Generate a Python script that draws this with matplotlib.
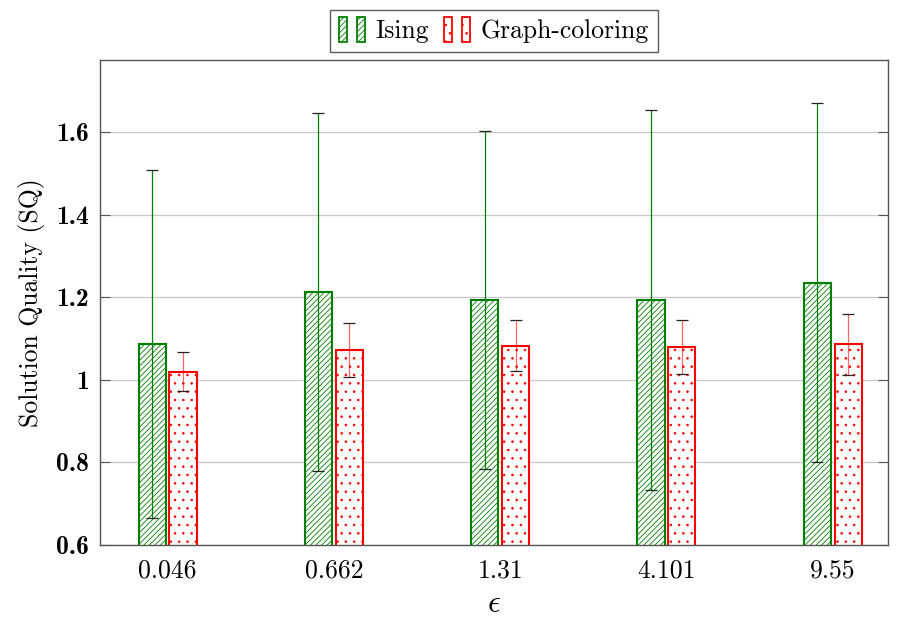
import matplotlib
matplotlib.use('Agg')
import matplotlib.pyplot as plt
import numpy as np
from matplotlib.legend_handler import HandlerBase
from matplotlib.patches import Rectangle

# values
eps_labels = ['0.046', '0.662', '1.31', '4.101', '9.55']
ising_mean = [1.087, 1.213, 1.193, 1.193, 1.235]
ising_err = [0.421, 0.433, 0.410, 0.460, 0.434]
graph_mean = [1.020, 1.072, 1.083, 1.079, 1.086]
graph_err = [0.047, 0.065, 0.062, 0.065, 0.074]
ytick_vals = [0.6, 0.8, 1.0, 1.2, 1.4, 1.6]
ytick_labels = ['0.6', '0.8', '1', '1.2', '1.4', '1.6']

green = '#008000'
red = '#ff0000'
fs = 18.5

plt.rcParams['font.family'] = 'cmr10'
plt.rcParams['mathtext.fontset'] = 'cm'
plt.rcParams['axes.formatter.use_mathtext'] = True
plt.rcParams['hatch.linewidth'] = 0.6


class TwoBars(HandlerBase):
    # pgfplots-like legend image: two small bars
    def create_artists(self, legend, orig, xd, yd, w, h, fontsize, trans):
        bw = w * 0.3
        arts = []
        for x0 in [0, w - bw]:
            r = Rectangle((x0 - xd, -yd - 0.1 * h), bw, h * 1.2, facecolor='white',
                          edgecolor=orig.get_edgecolor(), hatch=orig.get_hatch(),
                          lw=1.3, transform=trans)
            arts.append(r)
        return arts


fig = plt.figure(figsize=(8.98, 6.19), dpi=100)
ax = fig.add_axes([0.1114, 0.1195, 0.8776, 0.7841])

x = np.arange(len(eps_labels))
w = 0.163
off = 0.093

ax.bar(x - off, ising_mean, w, facecolor='white', edgecolor=green,
       hatch='//////', lw=1.5, zorder=2)
ax.bar(x + off, graph_mean, w, facecolor='white', edgecolor=red,
       hatch='..', lw=1.5, zorder=2)

e1 = ax.errorbar(x - off, ising_mean, yerr=ising_err, fmt='none', ecolor=green,
                 elinewidth=0.9, capsize=4, capthick=0.9, zorder=3)
e2 = ax.errorbar(x + off, graph_mean, yerr=graph_err, fmt='none', ecolor=red,
                 elinewidth=0.9, capsize=4, capthick=0.9, zorder=3)
e2[2][0].set_alpha(0.6)
for c in list(e1[1]) + list(e2[1]):
    c.set_markeredgecolor('#222222')
    c.set_color('#222222')

ax.set_xlim(-0.406, 4.333)
ax.set_ylim(0.6, 1.775)
ax.set_xticks(x)
ax.set_xticklabels(eps_labels, fontsize=fs)
ax.set_yticks(ytick_vals)
ax.set_yticklabels(ytick_labels, fontsize=fs, family='cmb10')
ax.tick_params(axis='x', length=0, pad=10)
ax.tick_params(axis='y', direction='in', length=7, width=0.8, color='#555555',
               right=True, pad=8)
ax.yaxis.grid(True, color='#c8c8c8', lw=0.9)
ax.set_axisbelow(True)
for s in ax.spines.values():
    s.set_color('#555555')
    s.set_linewidth(1.0)

ax.set_ylabel('Solution Quality (SQ)', fontsize=fs, labelpad=8)
ax.set_xlabel(r'$\epsilon$', fontsize=23, labelpad=6)

h1 = Rectangle((0, 0), 1, 1, facecolor='white', edgecolor=green, hatch='//////')
h2 = Rectangle((0, 0), 1, 1, facecolor='white', edgecolor=red, hatch='..')
leg = ax.legend([h1, h2], ['Ising', 'Graph-coloring'], handler_map={Rectangle: TwoBars()},
                loc='lower center', bbox_to_anchor=(0.5, 1.015), ncol=2, fontsize=fs,
                frameon=True, fancybox=False, handlelength=1.0, handleheight=0.9,
                handletextpad=0.4, columnspacing=0.6, borderpad=0.35, borderaxespad=0)
leg.get_frame().set_edgecolor('#333333')
leg.get_frame().set_linewidth(1.0)

fig.savefig('out.png', dpi=100)
